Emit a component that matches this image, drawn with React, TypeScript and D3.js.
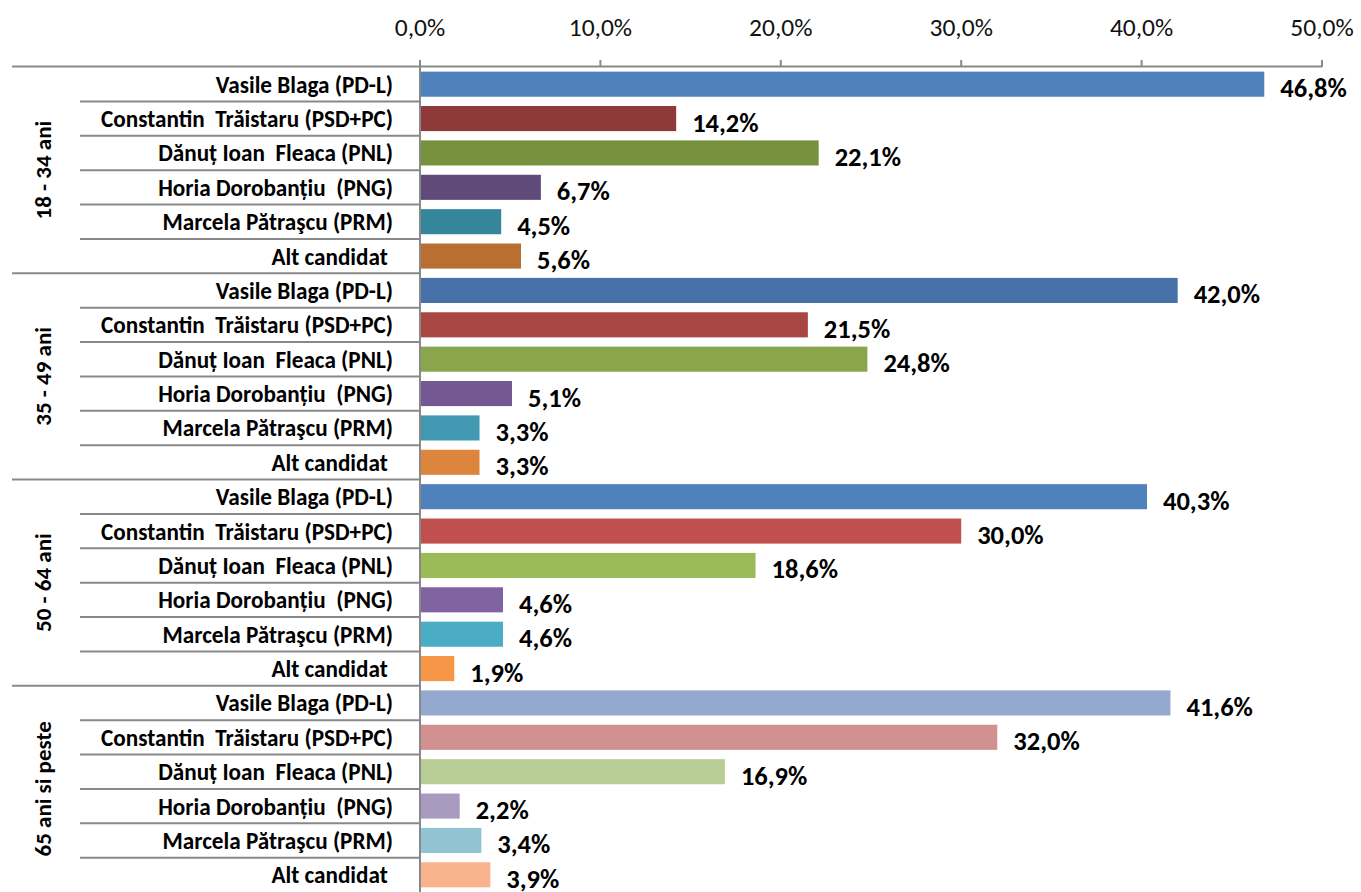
import React from "react";
import * as d3 from "d3";

const groups = ["18 - 34 ani", "35 - 49 ani", "50 - 64 ani", "65 ani si peste"];
const candidates = [
  "Vasile Blaga (PD-L)",
  "Constantin  Trăistaru (PSD+PC)",
  "Dănuț Ioan  Fleaca (PNL)",
  "Horia Dorobanțiu  (PNG)",
  "Marcela Pătraşcu (PRM)",
  "Alt candidat ",
];
const values18_34 = [46.8, 14.2, 22.1, 6.7, 4.5, 5.6];
const values35_49 = [42.0, 21.5, 24.8, 5.1, 3.3, 3.3];
const values50_64 = [40.3, 30.0, 18.6, 4.6, 4.6, 1.9];
const values65 = [41.6, 32.0, 16.9, 2.2, 3.4, 3.9];
const groupValues = [values18_34, values35_49, values50_64, values65];

const colors18_34 = ["#4F81BD", "#8E3A3A", "#77923F", "#5F4A7A", "#35869B", "#B96F32"];
const colors35_49 = ["#4672A9", "#A84644", "#8AA64D", "#735893", "#4099B0", "#DE853D"];
const colors50_64 = ["#4F81BD", "#C0504D", "#9BBB59", "#8064A2", "#4BACC6", "#F79646"];
const colors65 = ["#95A9CF", "#D19190", "#B9CD96", "#A99ABF", "#91C3D3", "#F9B48E"];
const groupColors = [colors18_34, colors35_49, colors50_64, colors65];

const ticks = [0, 10, 20, 30, 40, 50];

const W = 1361;
const H = 892;
const FONT = "Carlito, Calibri, Lato, 'Open Sans', sans-serif";

export default function App() {
  const x = d3.scaleLinear().domain([0, 50]).range([420, 1322]);
  const rows = groups.flatMap((g, gi) =>
    candidates.map((c, ci) => ({ key: `${gi}-${ci}`, g, gi, ci, c, v: groupValues[gi][ci], color: groupColors[gi][ci] }))
  );
  const y = d3.scaleBand<string>().domain(rows.map((r) => r.key)).range([67, 892]).paddingInner(0.27).paddingOuter(0.135);
  const step = y.step();
  const top = 67;
  const fmt = (v: number) => v.toFixed(1).replace(".", ",") + "%";
  const axisColor = "#898989";

  return (
    <div style={{ position: "absolute", left: 0, top: 0 }}>
      <svg width={W} height={H} style={{ display: "block", background: "#fff" }}>
        {/* ticks */}
        {ticks.map((t) => (
          <g key={t}>
            <line x1={x(t)} x2={x(t)} y1={60} y2={67} stroke={axisColor} strokeWidth={2} />
            <text x={x(t)} y={36} textAnchor="middle" fontFamily={FONT} fontSize={25.5} fill="#111">
              {fmt(t)}
            </text>
          </g>
        ))}
        {/* top axis line */}
        <line x1={12} x2={x(50)} y1={66.5} y2={66.5} stroke={axisColor} strokeWidth={2} />
        {/* row separators */}
        {rows.map((r, i) => {
          if (i === 0) return null;
          const yy = top + i * step;
          const isGroup = r.ci === 0;
          return (
            <line key={"s" + r.key} x1={isGroup ? 12 : 80} x2={420} y1={yy} y2={yy} stroke={axisColor} strokeWidth={2} />
          );
        })}
        {/* bars */}
        {rows.map((r) => (
          <rect key={"b" + r.key} x={x(0) + 1} y={y(r.key)!} width={x(r.v) - x(0) - 1} height={y.bandwidth()} fill={r.color} />
        ))}
        {/* value labels */}
        {rows.map((r) => (
          <text
            key={"v" + r.key}
            x={x(r.v) + 16}
            y={y(r.key)! + y.bandwidth() / 2 + 13}
            fontFamily={FONT}
            fontWeight="bold"
            fontSize={26.5}
            fill="#000"
          >
            {fmt(r.v)}
          </text>
        ))}
        {/* category labels */}
        {rows.map((r) => (
          <text
            key={"c" + r.key}
            x={393}
            y={y(r.key)! + y.bandwidth() / 2 + 8.5}
            textAnchor="end"
            fontFamily={FONT}
            fontWeight="bold"
            fontSize={23.2}
            fill="#000"
            style={{ whiteSpace: "pre" }}
          >
            {r.c}
          </text>
        ))}
        {/* group labels */}
        {groups.map((g, gi) => {
          const cy = top + (gi * 6 + 3) * step;
          return (
            <text
              key={"g" + gi}
              transform={`translate(51,${cy}) rotate(-90)`}
              textAnchor="middle"
              fontFamily={FONT}
              fontWeight="bold"
              fontSize={23}
              fill="#000"
            >
              {g}
            </text>
          );
        })}
        {/* vertical axis */}
        <line x1={420} x2={420} y1={66} y2={H} stroke={axisColor} strokeWidth={2} />
      </svg>
    </div>
  );
}
